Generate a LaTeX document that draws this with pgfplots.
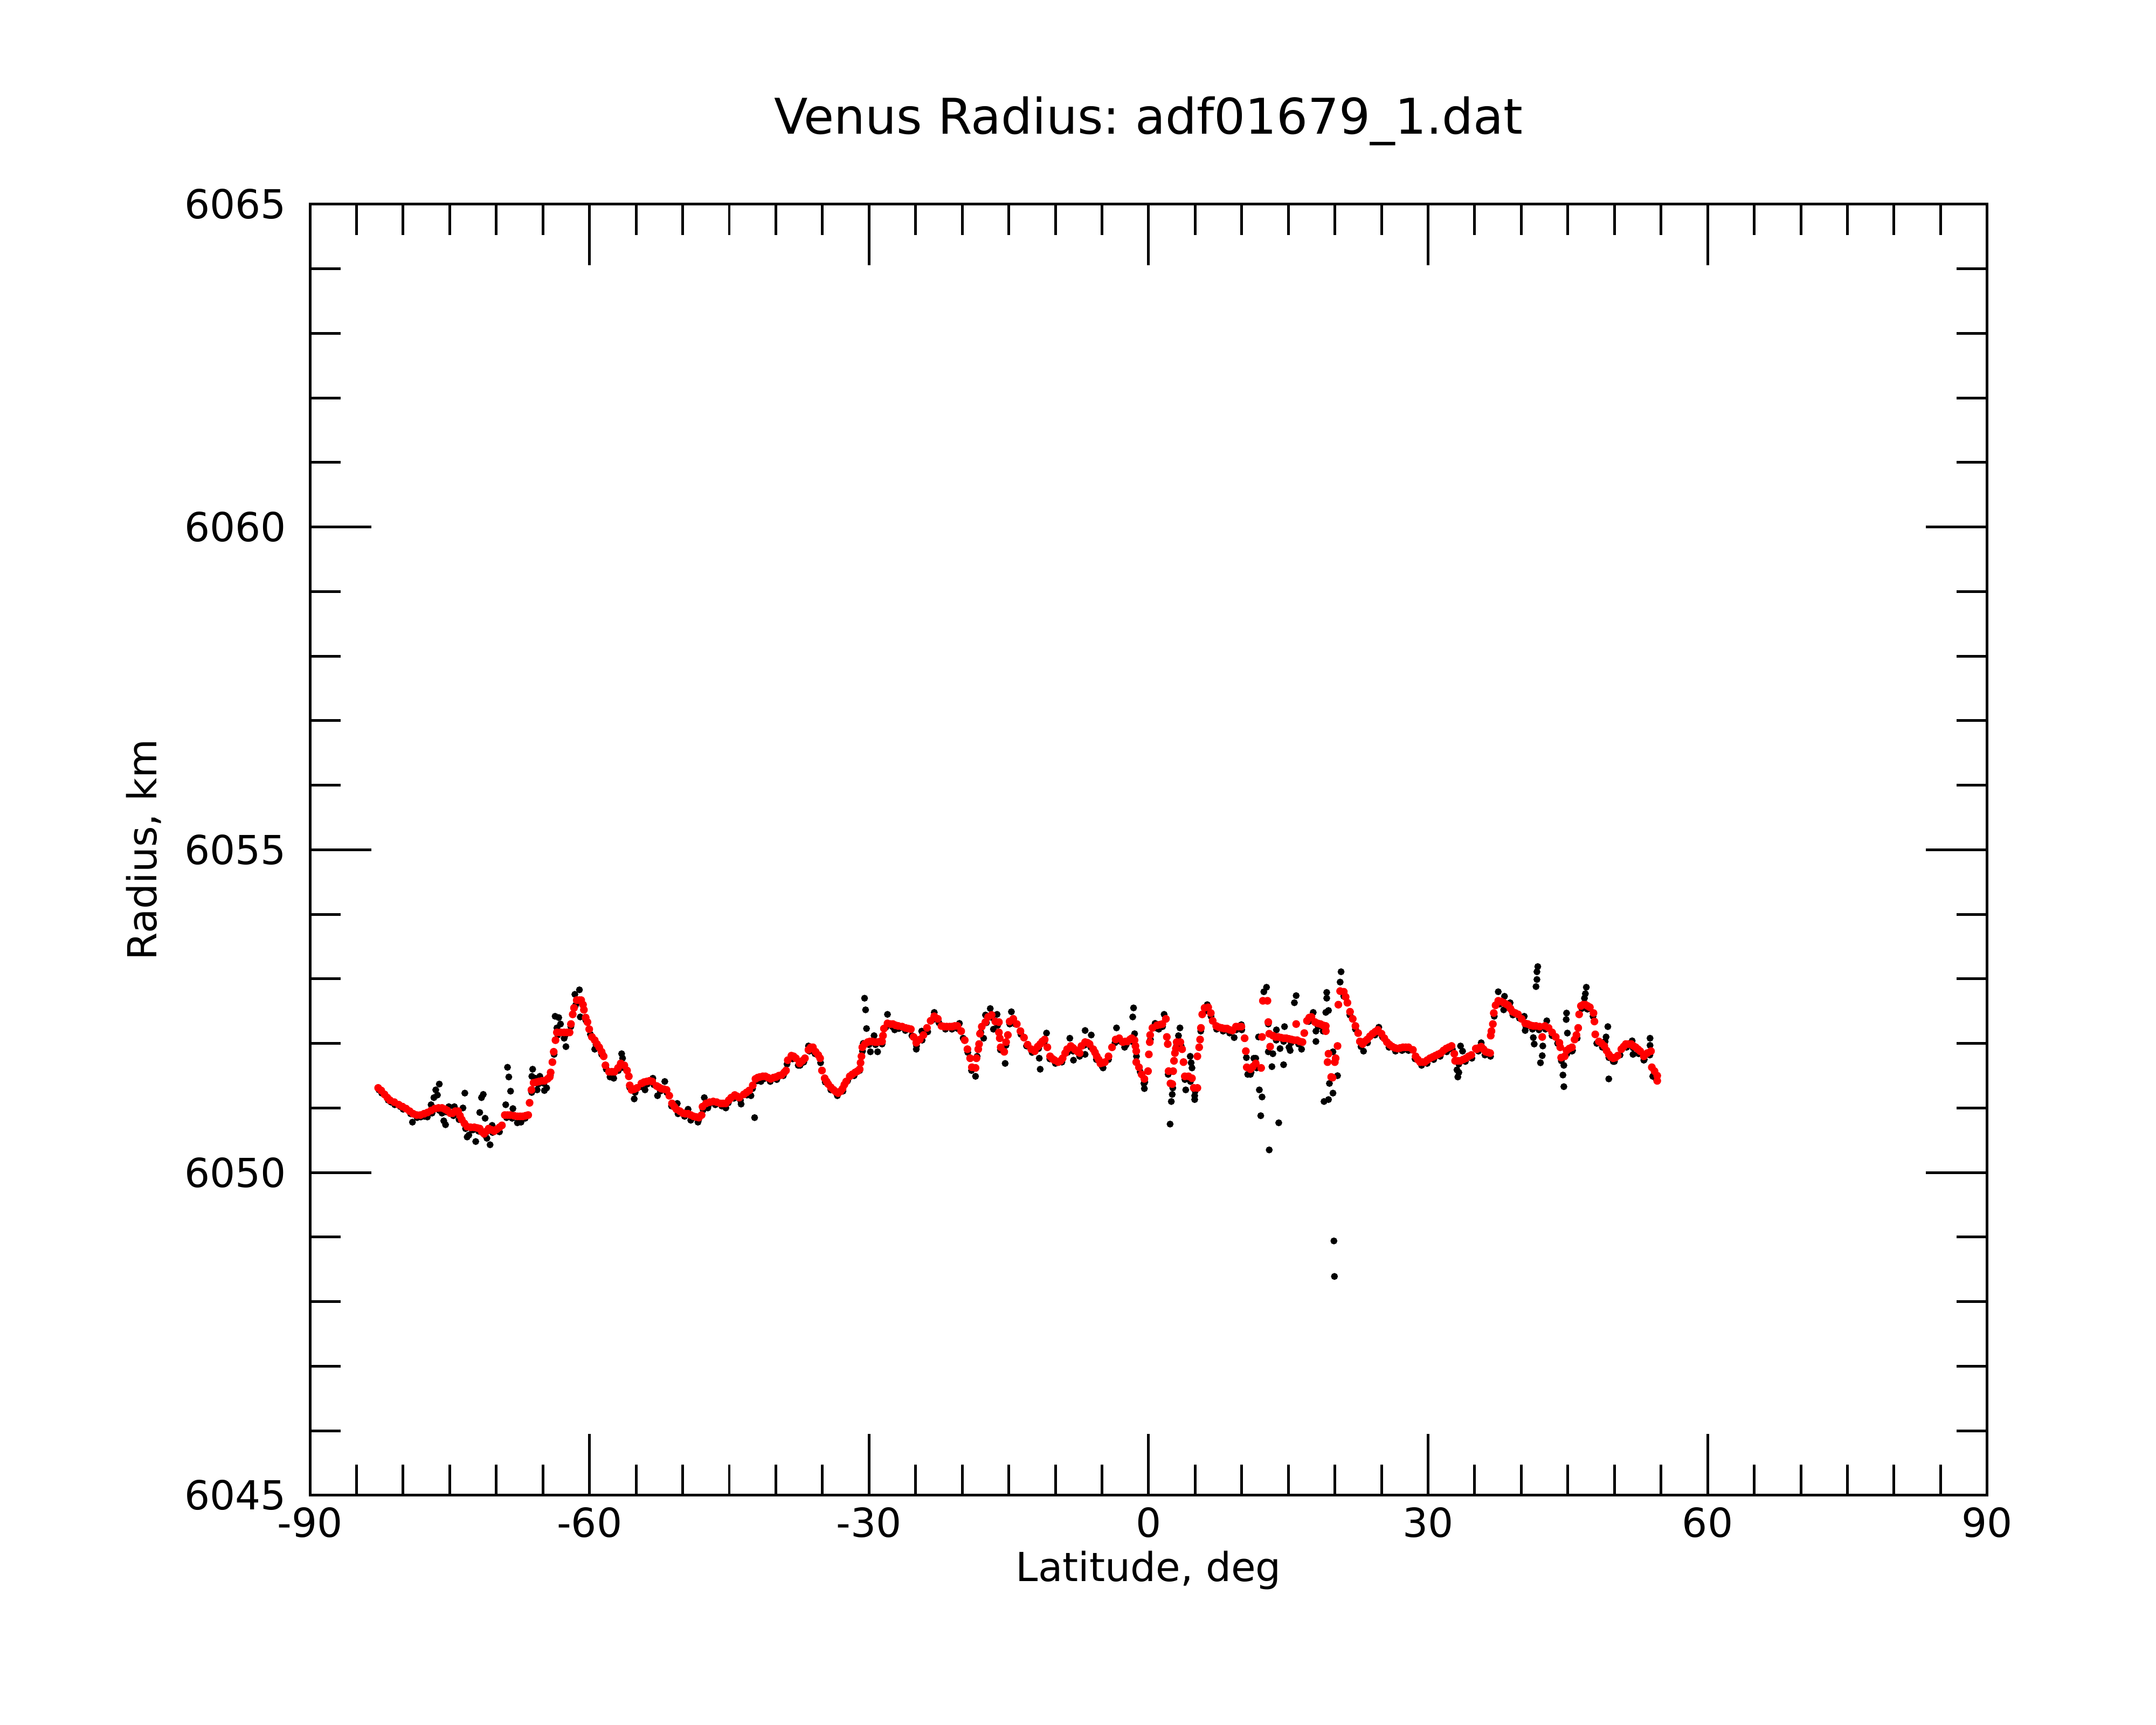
\documentclass[border=0pt]{standalone}
\usepackage{fontspec}
\setmainfont{DejaVu Sans}
\usepackage{pgfplots}
\pgfplotsset{compat=1.18}
\usepackage{pgfplotstable}
\frenchspacing

\pgfplotstableread{
lat R
-82.68 6051.31
-82.35 6051.27
-82.0 6051.21
-81.7 6051.16
-81.42 6051.12
-80.95 6051.09
-80.46 6051.05
-80.07 6051.02
-79.69 6050.99
-79.3 6050.95
-78.92 6050.91
-78.55 6050.89
-78.15 6050.89
-77.75 6050.91
-77.38 6050.93
-77.0 6050.96
-76.6 6050.99
-76.2 6051.00
-75.83 6051.00
-75.5 6050.98
-75.25 6050.96
-74.95 6050.92
-74.68 6050.92
-74.4 6050.95
-74.1 6050.95
-73.9 6050.88
-73.71 6050.82
-73.42 6050.76
-73.13 6050.71
-72.75 6050.70
-72.36 6050.70
-72.05 6050.69
-71.78 6050.68
-71.55 6050.63
-71.3 6050.60
-71.05 6050.64
-70.82 6050.68
-70.5 6050.66
-70.24 6050.64
-69.95 6050.67
-69.66 6050.70
-69.4 6050.73
-69.09 6050.89
-68.8 6050.89
-68.51 6050.89
-68.1 6050.88
-67.74 6050.87
-67.45 6050.87
-67.16 6050.87
-66.85 6050.88
-66.58 6050.89
-66.43 6051.08
-66.23 6051.28
-66.0 6051.39
-65.7 6051.40
-65.42 6051.41
-65.1 6051.42
-64.84 6051.42
-64.5 6051.45
-64.27 6051.48
-64.17 6051.55
-63.98 6051.71
-63.84 6051.87
-63.65 6052.05
-63.5 6052.17
-63.1 6052.17
-62.72 6052.17
-62.4 6052.17
-62.14 6052.17
-61.99 6052.30
-61.8 6052.45
-61.66 6052.55
-61.37 6052.67
-61.1 6052.67
-60.89 6052.67
-60.7 6052.60
-60.6 6052.52
-60.41 6052.40
-60.22 6052.33
-60.03 6052.22
-59.74 6052.10
-59.44 6052.05
-59.2 6051.99
-58.96 6051.94
-58.7 6051.87
-58.48 6051.80
-58.29 6051.66
-57.9 6051.56
-57.6 6051.56
-57.32 6051.56
-56.94 6051.62
-56.65 6051.69
-56.26 6051.66
-55.97 6051.58
-55.78 6051.49
-55.68 6051.35
-55.49 6051.28
-55.2 6051.29
-54.91 6051.31
-54.43 6051.38
-54.15 6051.40
-53.85 6051.41
-53.55 6051.42
-53.27 6051.41
-52.79 6051.34
-52.55 6051.32
-52.31 6051.30
-52.0 6051.29
-51.73 6051.28
-51.44 6051.19
-51.15 6051.07
-50.9 6051.02
-50.67 6050.98
-50.3 6050.95
-49.99 6050.92
-49.7 6050.91
-49.42 6050.91
-49.13 6050.89
-48.84 6050.87
-48.55 6050.86
-48.26 6050.85
-47.97 6050.89
-47.87 6051.02
-47.49 6051.07
-47.1 6051.09
-46.72 6051.10
-46.35 6051.09
-45.95 6051.07
-45.65 6051.07
-45.37 6051.07
-45.05 6051.12
-44.79 6051.16
-44.41 6051.20
-44.15 6051.18
-43.92 6051.16
-43.44 6051.21
-43.15 6051.24
-42.86 6051.27
-42.48 6051.35
-42.19 6051.45
-41.95 6051.47
-41.71 6051.48
-41.4 6051.49
-41.13 6051.49
-40.85 6051.47
-40.55 6051.45
-40.25 6051.47
-39.97 6051.48
-39.68 6051.50
-39.39 6051.51
-39.1 6051.55
-38.91 6051.58
-38.72 6051.74
-38.33 6051.81
-38.1 6051.80
-37.85 6051.77
-37.46 6051.69
-37.15 6051.73
-36.88 6051.77
-36.5 6051.90
-36.25 6051.94
-36.02 6051.94
-35.73 6051.87
-35.45 6051.82
-35.25 6051.77
-35.05 6051.58
-34.76 6051.46
-34.55 6051.41
-34.38 6051.37
-34.1 6051.32
-33.8 6051.28
-33.55 6051.25
-33.32 6051.23
-33.05 6051.26
-32.84 6051.30
-32.65 6051.36
-32.45 6051.41
-32.07 6051.49
-31.8 6051.52
-31.49 6051.55
-31.25 6051.57
-31.01 6051.60
-30.91 6051.70
-30.81 6051.80
-30.72 6051.94
-30.45 6051.99
-30.14 6052.02
-29.9 6052.03
-29.66 6052.03
-29.35 6052.02
-29.08 6052.02
-28.8 6052.03
-28.6 6052.03
-28.5 6052.12
-28.4 6052.23
-28.02 6052.31
-27.7 6052.30
-27.44 6052.30
-27.15 6052.28
-26.86 6052.27
-26.45 6052.26
-26.09 6052.24
-25.8 6052.23
-25.51 6052.22
-25.22 6052.10
-24.93 6052.01
-24.55 6052.06
-24.16 6052.13
-23.78 6052.24
-23.39 6052.35
-23.0 6052.42
-22.62 6052.38
-22.23 6052.27
-21.95 6052.26
-21.66 6052.26
-21.35 6052.26
-21.08 6052.26
-20.8 6052.27
-20.5 6052.27
-20.11 6052.19
-19.73 6052.05
-19.44 6051.91
-19.15 6051.77
-18.96 6051.63
-18.57 6051.62
-18.47 6051.77
-18.28 6051.91
-18.19 6051.99
-18.09 6052.15
-17.9 6052.26
-17.51 6052.33
-17.22 6052.41
-16.84 6052.44
-16.45 6052.34
-16.06 6052.33
-16.06 6052.17
-15.97 6052.08
-15.87 6051.94
-15.49 6051.87
-15.29 6052.02
-15.1 6052.13
-14.91 6052.34
-14.52 6052.38
-14.14 6052.30
-13.75 6052.19
-13.37 6052.09
-12.98 6051.98
-12.59 6051.91
-12.21 6051.88
-11.9 6051.95
-11.63 6051.99
-11.4 6052.03
-11.15 6052.06
-10.86 6051.94
-10.57 6051.80
-10.3 6051.76
-10.09 6051.74
-9.7 6051.71
-9.45 6051.73
-9.22 6051.77
-8.95 6051.85
-8.74 6051.91
-8.35 6051.96
-8.1 6051.93
-7.87 6051.90
-7.6 6051.87
-7.39 6051.85
-7.2 6051.96
-6.81 6052.02
-6.55 6052.01
-6.33 6051.99
-5.94 6051.91
-5.75 6051.86
-5.56 6051.80
-5.35 6051.75
-5.17 6051.69
-4.9 6051.70
-4.69 6051.71
-4.3 6051.80
-3.92 6051.94
-3.53 6052.06
-3.15 6052.08
-2.76 6052.02
-2.5 6052.03
-2.28 6052.03
-2.0 6052.06
-1.8 6052.08
-1.51 6052.05
-1.41 6051.96
-1.32 6051.88
-1.32 6051.71
-1.03 6051.63
-0.74 6051.52
-0.45 6051.45
-0.06 6051.57
0.03 6051.83
0.13 6052.02
0.17 6052.13
0.42 6052.24
0.9 6052.28
1.2 6052.29
1.48 6052.30
1.86 6052.38
1.96 6052.10
2.06 6051.99
2.15 6051.57
2.35 6051.38
2.54 6051.37
2.64 6051.57
2.73 6051.73
2.83 6051.85
2.93 6051.92
3.02 6052.02
3.41 6052.02
3.6 6051.91
3.75 6051.71
3.89 6051.49
4.28 6051.49
4.66 6051.46
4.85 6051.31
5.24 6051.31
5.24 6051.80
5.43 6051.94
5.53 6052.06
5.62 6052.24
5.76 6052.45
6.01 6052.55
6.4 6052.56
6.68 6052.47
6.88 6052.35
7.26 6052.27
7.55 6052.25
7.84 6052.24
8.13 6052.23
8.42 6052.23
8.7 6052.21
9.0 6052.20
9.38 6052.26
9.67 6052.26
9.96 6052.26
10.31 6052.08
10.44 6051.88
10.54 6051.63
10.93 6051.60
11.2 6051.64
11.5 6051.69
12.08 6051.62
12.27 6052.66
12.76 6052.66
12.85 6052.33
12.18 6052.10
13.05 6051.95
12.95 6052.15
13.35 6052.12
13.62 6052.10
13.9 6052.10
14.2 6052.09
14.5 6052.08
14.78 6052.08
15.07 6052.07
15.36 6052.06
15.65 6052.05
15.94 6052.05
16.22 6052.03
16.52 6052.02
15.84 6052.30
16.71 6052.16
17.0 6052.35
17.25 6052.40
17.48 6052.41
17.87 6052.33
18.15 6052.31
18.44 6052.30
18.73 6052.28
19.02 6052.27
19.02 6052.19
20.28 6051.96
19.31 6051.84
19.21 6051.71
20.08 6051.77
19.99 6051.71
19.6 6051.48
19.75 6051.47
20.37 6052.60
20.56 6052.81
20.95 6052.80
21.15 6052.72
21.34 6052.63
21.62 6052.49
21.91 6052.38
22.2 6052.27
22.49 6052.16
22.68 6052.03
22.97 6051.99
23.2 6052.03
23.46 6052.06
23.75 6052.11
24.04 6052.15
24.32 6052.18
24.61 6052.21
25.0 6052.15
25.3 6052.08
25.58 6052.02
25.87 6051.98
26.16 6051.95
26.45 6051.93
26.73 6051.92
27.02 6051.93
27.31 6051.94
27.6 6051.94
27.89 6051.94
28.37 6051.90
28.66 6051.80
28.9 6051.75
29.14 6051.71
29.4 6051.71
29.63 6051.71
29.9 6051.74
30.2 6051.77
30.5 6051.79
30.78 6051.81
31.07 6051.83
31.36 6051.85
31.65 6051.89
31.94 6051.92
32.23 6051.94
32.52 6051.96
32.81 6051.84
32.9 6051.73
33.2 6051.73
33.48 6051.73
33.77 6051.75
34.06 6051.77
34.35 6051.80
34.64 6051.82
35.12 6051.92
35.22 6051.91
35.45 6051.93
35.7 6051.95
35.95 6051.91
36.18 6051.87
36.42 6051.86
36.66 6051.85
36.72 6052.12
36.8 6052.19
36.95 6052.30
37.05 6052.47
37.24 6052.59
37.53 6052.66
37.82 6052.65
38.11 6052.63
38.35 6052.61
38.59 6052.59
38.83 6052.54
39.07 6052.49
39.36 6052.47
39.65 6052.45
40.04 6052.38
40.42 6052.31
40.7 6052.30
41.0 6052.28
41.3 6052.27
41.58 6052.27
41.97 6052.26
42.25 6052.10
42.54 6052.27
42.93 6052.24
43.31 6052.17
43.7 6052.10
44.09 6052.01
44.18 6051.94
44.28 6051.78
44.66 6051.80
44.86 6051.89
45.15 6051.92
45.44 6051.94
45.72 6052.06
45.92 6052.13
46.11 6052.24
46.21 6052.45
46.4 6052.58
46.65 6052.60
46.88 6052.60
47.12 6052.58
47.36 6052.56
47.75 6052.47
47.85 6052.34
47.94 6052.14
48.33 6052.03
48.62 6052.00
48.91 6051.96
49.15 6051.89
49.39 6051.83
49.63 6051.79
49.87 6051.77
50.1 6051.78
50.35 6051.81
50.74 6051.91
50.98 6051.95
51.22 6051.99
51.5 6051.99
51.8 6051.99
52.04 6051.96
52.28 6051.94
52.52 6051.91
52.76 6051.88
53.15 6051.80
53.53 6051.85
53.92 6051.88
54.01 6051.63
54.3 6051.57
54.59 6051.50
54.59 6051.42
}\redtab

\pgfplotstableread{
lat R
-82.6 6051.28
-81.3 6051.09
-80.3 6051.02
-79.0 6050.78
-78.1 6050.86
-77.4 6050.86
-77.0 6051.05
-76.7 6051.16
-76.5 6051.28
-76.32 6051.20
-76.12 6051.37
-75.83 6050.92
-75.64 6050.80
-75.45 6050.74
-75.1 6051.02
-74.5 6051.02
-74.0 6050.82
-73.58 6051.00
-73.38 6051.23
-73.13 6050.55
-72.95 6050.58
-72.5 6050.66
-72.21 6050.48
-71.78 6050.93
-71.59 6051.16
-71.4 6051.21
-71.2 6050.84
-71.01 6050.53
-70.67 6050.43
-70.45 6050.73
-69.66 6050.63
-68.99 6051.05
-68.8 6051.63
-68.66 6051.48
-68.47 6051.26
-68.22 6050.99
-67.74 6050.77
-67.35 6050.78
-66.1 6051.60
-66.19 6051.49
-65.8 6051.46
-65.33 6051.49
-65.62 6051.28
-64.84 6051.27
-64.6 6051.31
-63.69 6052.42
-63.3 6052.40
-63.11 6052.30
-63.5 6052.24
-62.72 6052.08
-62.53 6051.95
-61.57 6052.76
-61.08 6052.83
-60.99 6052.41
-59.44 6051.91
-58.6 6051.84
-57.8 6051.48
-57.4 6051.46
-56.55 6051.84
-56.45 6051.77
-55.2 6051.14
-54.43 6051.35
-54.04 6051.28
-53.2 6051.46
-52.7 6051.19
-51.92 6051.41
-50.58 6051.07
-49.42 6050.98
-49.13 6050.81
-48.36 6050.78
-47.68 6051.16
-47.3 6051.00
-45.37 6051.00
-43.73 6051.06
-42.67 6051.19
-42.28 6050.85
-41.6 6051.41
-36.5 6051.96
-37.4 6051.66
-30.48 6052.70
-30.37 6052.52
-30.27 6052.23
-30.62 6052.00
-29.85 6051.87
-29.46 6052.12
-29.08 6051.87
-28.02 6052.45
-27.25 6052.21
-24.93 6051.91
-24.35 6052.19
-23.0 6052.48
-20.3 6052.31
-18.57 6051.49
-17.7 6052.08
-17.5 6052.44
-16.99 6052.54
-16.26 6052.45
-16.65 6052.22
-15.39 6051.69
-14.72 6052.49
-11.73 6051.77
-11.63 6051.60
-10.95 6052.16
-8.06 6051.74
-8.45 6052.08
-6.81 6052.20
-6.15 6052.13
-6.81 6051.83
-4.88 6051.62
-3.44 6052.24
-1.61 6052.55
-1.7 6052.41
-1.5 6052.15
-2.57 6051.94
-0.45 6051.30
-0.5 6051.38
0.7 6052.31
1.67 6052.45
1.1 6052.22
2.54 6051.21
2.44 6051.10
2.31 6050.75
3.37 6052.24
3.21 6052.12
3.99 6051.28
4.47 6051.80
4.57 6051.70
4.66 6051.62
4.95 6051.19
4.95 6051.13
6.3 6052.60
8.0 6052.19
9.19 6052.09
9.96 6052.29
10.64 6051.52
11.3 6051.77
11.5 6051.77
10.93 6051.52
11.8 6052.10
11.89 6051.28
12.18 6051.17
12.04 6050.88
12.95 6050.35
13.97 6050.77
12.66 6052.87
12.37 6052.80
12.85 6052.30
12.85 6051.87
13.34 6051.84
13.24 6051.64
14.49 6051.67
14.11 6051.92
13.72 6052.21
14.59 6052.26
15.07 6051.94
15.2 6051.89
15.84 6052.74
15.65 6052.63
16.42 6051.91
17.67 6052.48
17.96 6052.19
17.96 6052.03
19.12 6052.79
19.12 6052.70
19.02 6052.48
19.31 6052.51
18.73 6052.19
19.21 6051.71
19.79 6051.87
19.41 6051.38
19.79 6051.23
18.83 6051.10
19.31 6051.13
20.28 6051.50
20.66 6053.11
20.56 6052.95
20.95 6052.73
19.89 6048.94
19.95 6048.39
23.07 6051.88
24.71 6052.25
27.31 6051.90
33.48 6051.96
33.7 6051.88
33.1 6051.59
33.3 6051.55
33.19 6051.48
35.7 6052.01
37.53 6052.80
38.2 6052.73
38.11 6052.52
38.8 6052.63
40.32 6052.42
40.42 6052.20
41.29 6052.09
41.39 6051.99
41.77 6053.19
41.68 6053.11
41.68 6052.99
41.58 6052.88
42.31 6051.96
42.25 6051.81
42.06 6051.70
42.74 6052.35
44.86 6052.47
44.82 6052.37
44.95 6052.16
44.57 6051.66
44.47 6051.51
44.57 6051.33
45.44 6051.88
46.98 6052.87
46.88 6052.77
46.78 6052.70
49.29 6052.26
49.1 6052.10
49.0 6052.03
49.39 6051.45
49.87 6051.72
51.9 6052.04
51.99 6051.83
53.15 6051.74
53.82 6052.08
53.82 6051.97
54.11 6051.49
-82.3 6051.23
-81.6 6051.12
-80.9 6051.05
-80.0 6050.98
-79.2 6050.91
-78.5 6050.85
-77.7 6050.87
-76.9 6050.92
-76.1 6050.96
-75.4 6050.94
-74.6 6050.88
-73.8 6050.83
-73.3 6050.68
-72.6 6050.66
-71.9 6050.64
-71.2 6050.58
-70.4 6050.62
-69.8 6050.65
-68.9 6050.85
-68.3 6050.84
-67.6 6050.83
-66.9 6050.84
-66.2 6051.24
-65.5 6051.37
-64.9 6051.38
-64.2 6051.50
-63.8 6051.83
-63.4 6052.13
-62.6 6052.13
-62.0 6052.26
-61.5 6052.59
-60.9 6052.63
-60.4 6052.36
-59.9 6052.14
-59.3 6051.98
-58.7 6051.83
-58.2 6051.60
-57.6 6051.52
-56.9 6051.58
-56.3 6051.62
-55.7 6051.32
-55.1 6051.24
-54.5 6051.33
-53.8 6051.37
-53.1 6051.36
-52.4 6051.26
-51.7 6051.24
-51.2 6051.03
-50.5 6050.91
-49.8 6050.87
-49.0 6050.84
-48.3 6050.81
-47.8 6050.97
-47.2 6051.05
-46.5 6051.05
-45.8 6051.03
-45.1 6051.08
-44.5 6051.15
-43.8 6051.12
-43.1 6051.20
-42.5 6051.30
-42.0 6051.42
-41.3 6051.45
-40.6 6051.41
-39.9 6051.44
-39.2 6051.50
-38.8 6051.68
-38.2 6051.76
-37.6 6051.66
-37.0 6051.71
-36.4 6051.88
-35.8 6051.84
-35.2 6051.70
-34.7 6051.40
-34.1 6051.28
-33.4 6051.19
-32.8 6051.26
-32.3 6051.42
-31.6 6051.50
-31.0 6051.58
-30.7 6051.88
-30.0 6051.98
-29.3 6051.98
-28.6 6051.99
-28.2 6052.25
-27.5 6052.26
-26.8 6052.23
-26.1 6052.20
-25.4 6052.12
-24.9 6051.96
-24.3 6052.05
-23.7 6052.18
-23.1 6052.37
-22.5 6052.32
-21.8 6052.22
-21.1 6052.22
-20.5 6052.23
-19.9 6052.08
-19.4 6051.86
-19.0 6051.58
-18.4 6051.80
-18.0 6052.17
-17.4 6052.32
-16.8 6052.40
-16.2 6052.28
-15.9 6051.90
-15.3 6051.97
-14.9 6052.30
-14.3 6052.30
-13.7 6052.14
-13.1 6051.96
-12.5 6051.86
-11.8 6051.92
-11.2 6052.02
-10.6 6051.76
-10.0 6051.69
-9.3 6051.71
-8.7 6051.86
-8.1 6051.88
-7.4 6051.80
-6.9 6051.97
-6.2 6051.94
-5.6 6051.75
-5.0 6051.65
-4.3 6051.75
-3.6 6052.01
-3.0 6052.03
-2.4 6051.98
-1.8 6052.03
-1.3 6051.80
-0.9 6051.56
-0.4 6051.40
0.2 6052.06
0.8 6052.24
1.5 6052.26
2.1 6051.52
2.6 6051.31
3.0 6051.96
3.5 6051.96
3.9 6051.44
4.5 6051.41
5.0 6051.26
5.6 6052.19
6.1 6052.50
6.7 6052.42
7.3 6052.22
8.7 6052.16
9.4 6052.21
10.0 6052.21
10.5 6051.78
11.0 6051.55
11.6 6051.62
13.7 6052.05
14.5 6052.03
15.3 6052.01
16.1 6051.99
17.2 6052.34
18.2 6052.26
19.0 6052.22
21.0 6052.75
21.6 6052.44
22.2 6052.22
22.8 6051.95
23.5 6052.01
24.3 6052.13
25.1 6052.10
25.8 6051.94
26.5 6051.88
27.2 6051.89
27.9 6051.89
28.6 6051.76
29.3 6051.66
29.9 6051.69
30.6 6051.75
31.3 6051.80
32.0 6051.87
32.6 6051.91
33.3 6051.68
34.0 6051.72
34.7 6051.77
35.4 6051.88
36.1 6051.82
36.7 6051.80
37.1 6052.42
37.7 6052.61
38.4 6052.56
39.1 6052.44
39.8 6052.39
40.5 6052.26
41.2 6052.22
41.9 6052.21
42.6 6052.22
43.3 6052.12
43.9 6052.00
44.3 6051.73
44.9 6051.84
45.5 6051.89
46.0 6052.08
46.5 6052.54
47.1 6052.53
47.7 6052.42
48.1 6052.00
48.7 6051.94
49.4 6051.78
50.0 6051.72
50.6 6051.82
51.3 6051.94
52.0 6051.93
52.6 6051.84
53.2 6051.75
53.8 6051.82
54.2 6051.50
54.5 6051.44
}\blacktab

\begin{document}
\begin{tikzpicture}
\useasboundingbox (0,0) rectangle (722.7pt,578.16pt);
\begin{axis}[
  at={(103.9pt,77.0pt)}, anchor=south west,
  scale only axis, width=562.2pt, height=432.7pt,
  xmin=-90, xmax=90, ymin=6045, ymax=6065,
  xtick={-90,-60,-30,0,30,60,90},
  xticklabels={-90,-60,-30,0,30,60,90},
  ytick={6045,6050,6055,6060,6065},
  yticklabels={6045,6050,6055,6060,6065},
  minor x tick num=5,
  minor y tick num=4,
  tick align=inside, tick pos=both,
  major tick length=20.5pt, minor tick length=10.3pt,
  axis line style={line width=0.9pt},
  every tick/.style={black, line width=0.9pt},
  tick label style={font=\fontsize{13.4pt}{16pt}\selectfont},
  yticklabel style={anchor=east, inner sep=0pt, xshift=-7.8pt},
  xticklabel style={anchor=base, inner sep=0pt, yshift=-14.1pt},
  title={Venus Radius: adf01679\_1.dat},
  title style={at={(axis description cs:0.5,1.0404)}, anchor=base, inner sep=0pt, font=\fontsize{16.5pt}{20pt}\selectfont},
  xlabel={Latitude, deg},
  xlabel style={at={(axis description cs:0.5,-0.0668)}, anchor=base, inner sep=0pt, font=\fontsize{13.4pt}{16pt}\selectfont},
  ylabel={Radius, km},
  ylabel style={at={(axis description cs:-0.0914,0.5)}, anchor=base, inner sep=0pt, font=\fontsize{13.4pt}{16pt}\selectfont},
  clip=true,
]
\addplot[only marks, mark=*, mark size=0.95pt, black, mark options={draw=none, fill=black}] table[x=lat, y=R] {\blacktab};
\addplot[only marks, mark=*, mark size=1.1pt, red, mark options={draw=none, fill=red}] table[x=lat, y=R] {\redtab};
\end{axis}
\end{tikzpicture}
\end{document}
